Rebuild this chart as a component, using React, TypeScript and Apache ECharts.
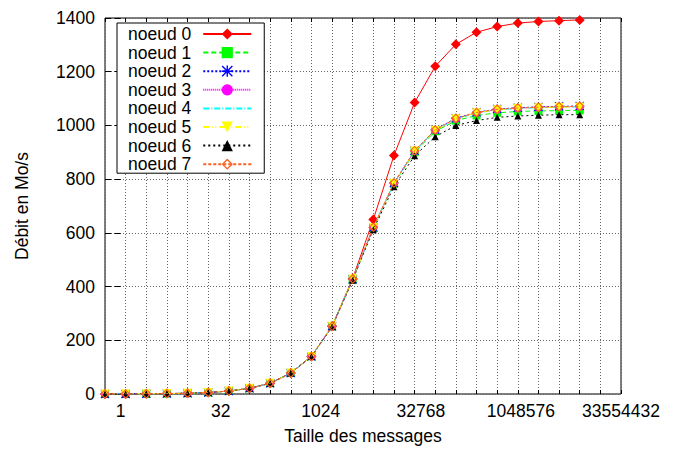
import React, { useEffect, useRef } from 'react';
import * as echarts from 'echarts';

const messageSizes = [1, 2, 4, 8, 16, 32, 64, 128, 256, 512, 1024, 2048, 4096, 8192, 16384, 32768, 65536, 131072, 262144, 524288, 1048576, 2097152, 4194304, 8388608];

const xTickExponents = [0, 5, 10, 15, 20, 25];
const xTickLabels = ['1', '32', '1024', '32768', '1048576', '33554432'];

const seriesNames = ['noeud 0', 'noeud 1', 'noeud 2', 'noeud 3', 'noeud 4', 'noeud 5', 'noeud 6', 'noeud 7'];

const noeud0 = [0.2, 0.4, 0.7, 1.4, 2.8, 5.5, 11, 21, 40, 78, 140, 252, 430, 650, 888, 1085, 1220, 1302, 1347, 1368, 1381, 1387, 1390, 1393];
const noeud1 = [0.2, 0.4, 0.7, 1.4, 2.8, 5.5, 11, 21, 40, 78, 140, 252, 426, 618, 783, 900, 978, 1018, 1037, 1047, 1052, 1054, 1055, 1056];
const noeud2 = [0.2, 0.4, 0.7, 1.4, 2.8, 5.5, 11, 21, 40, 78, 140, 252, 427, 620, 786, 906, 984, 1027, 1049, 1061, 1066, 1069, 1071, 1072];
const noeud3 = [0.2, 0.4, 0.7, 1.4, 2.8, 5.5, 11, 21, 40, 78, 140, 251, 428, 621, 785, 905, 982, 1025, 1047, 1059, 1064, 1067, 1069, 1070];
const noeud4 = [0.2, 0.4, 0.7, 1.4, 2.8, 5.5, 11, 21, 40, 78, 140, 251, 427, 619, 784, 904, 981, 1024, 1046, 1058, 1063, 1066, 1068, 1069];
const noeud5 = [0.2, 0.4, 0.7, 1.4, 2.8, 5.5, 11, 21, 40, 78, 140, 252, 428, 620, 785, 905, 982, 1025, 1047, 1058, 1064, 1066, 1068, 1069];
const noeud6 = [0.2, 0.4, 0.7, 1.4, 2.8, 5.5, 11, 21, 40, 78, 140, 250, 424, 612, 772, 887, 958, 1000, 1018, 1030, 1035, 1038, 1040, 1040];
const noeud7 = [0.2, 0.4, 0.7, 1.4, 2.8, 5.5, 11, 21, 40, 78, 140, 252, 428, 621, 786, 906, 983, 1026, 1048, 1060, 1065, 1068, 1070, 1071];

const allValues = [noeud0, noeud1, noeud2, noeud3, noeud4, noeud5, noeud6, noeud7];

const colors = ['#ff0000', '#00ff00', '#0000ff', '#ff00ff', '#00ffff', '#ffff00', '#000000', '#ff6020'];
const dashes: any[] = ['solid', [5, 3], [2, 2], [1, 1], [6, 2, 1, 2], [6, 3, 1, 2, 1, 3], [2, 3], [3, 2]];
const ASTERISK = 'path://M7,0H9V16H7Z M0,7H16V9H0Z M1.4,0L16,14.6L14.6,16L0,1.4Z M14.6,0L16,1.4L1.4,16L0,14.6Z';
const HOLLOW_DIAMOND = 'path://M6,0L12,6L6,12L0,6Z M6,2L2,6L6,10L10,6Z';
const symbols = ['diamond', 'rect', ASTERISK, 'circle', 'circle', 'triangle', 'triangle', HOLLOW_DIAMOND];
const symbolSizes = [10, 8, 9, 8, 6, 9, 7, 10];
const symbolRotates = [0, 0, 0, 0, 0, 180, 0, 0];
const symbolOpacity = [1, 1, 1, 1, 0, 1, 1, 1];

const FONT = "'Liberation Sans', Arial, Helvetica, sans-serif";
const FS = 17.5;

export default function App() {
  const ref = useRef<HTMLDivElement>(null);
  useEffect(() => {
    if (!ref.current) return;
    const chart = echarts.init(ref.current, null, { renderer: 'svg' });
    const gridLine = { show: true, lineStyle: { color: '#666', type: [1, 2] as any, width: 1 } };
    const series = seriesNames.map((name, k) => ({
      name,
      type: 'line',
      xAxisIndex: 0,
      yAxisIndex: 0,
      data: messageSizes.map((s, i) => [Math.log2(s), allValues[k][i]]),
      symbol: symbols[k],
      symbolSize: symbolSizes[k],
      symbolRotate: symbolRotates[k],
      showAllSymbol: true,
      lineStyle: { color: colors[k], width: 1, type: dashes[k] },
      itemStyle: { color: colors[k], opacity: symbolOpacity[k] },
      emphasis: { disabled: true },
      z: 2 + k * 0.01,
    }));
    chart.setOption({
      animation: false,
      textStyle: { fontFamily: FONT },
      grid: { left: 105, top: 18, right: 57, bottom: 54, show: true, borderColor: '#000', borderWidth: 1, backgroundColor: 'transparent' },
      legend: {
        orient: 'vertical',
        left: 117,
        top: 23,
        align: 'right',
        itemWidth: 48,
        itemHeight: 14,
        itemGap: 0.6,
        padding: [2, 12, 0, 11],
        borderColor: '#000',
        borderWidth: 1,
        borderRadius: 0,
        backgroundColor: '#fff',
        textStyle: { fontSize: FS, fontFamily: FONT, color: '#000', lineHeight: 17, padding: [0, 7, 0, 0] },
        data: seriesNames,
      },
      xAxis: [
        {
          type: 'value', min: 0, max: 25, interval: 1, position: 'bottom',
          axisLine: { show: false },
          axisTick: { show: true, inside: true, length: 4, lineStyle: { color: '#000' } },
          axisLabel: { show: false },
          splitLine: gridLine,
        },
        {
          type: 'value', min: -0.78, max: 25, position: 'bottom',
          name: 'Taille des messages', nameLocation: 'middle', nameGap: 33,
          nameTextStyle: { fontSize: FS, fontFamily: FONT, color: '#000' },
          axisLine: { show: false },
          axisTick: { show: false },
          splitLine: { show: false },
          axisLabel: {
            show: true, fontSize: FS, fontFamily: FONT, color: '#000', margin: 8,
            customValues: xTickExponents,
            showMinLabel: true, showMaxLabel: true,
            formatter: (v: number) => {
              const idx = xTickExponents.indexOf(Math.round(v));
              return idx >= 0 ? xTickLabels[idx] : '';
            },
          },
        },
        {
          type: 'value', min: 0, max: 25, interval: 1, position: 'top',
          axisLine: { show: false },
          axisTick: { show: true, inside: true, length: 4, lineStyle: { color: '#000' } },
          axisLabel: { show: false },
          splitLine: { show: false },
        },
      ],
      yAxis: [
        {
          type: 'value', min: 0, max: 1400, interval: 200, position: 'left',
          name: 'Débit en Mo/s', nameLocation: 'middle', nameGap: 74, nameRotate: 90,
          nameTextStyle: { fontSize: FS, fontFamily: FONT, color: '#000' },
          axisLine: { show: false },
          axisTick: { show: true, inside: true, length: 6, lineStyle: { color: '#000' } },
          axisLabel: { fontSize: FS, fontFamily: FONT, color: '#000', margin: 10, formatter: (v: number) => String(v) },
          splitLine: gridLine,
        },
        {
          type: 'value', min: 0, max: 1400, interval: 200, position: 'right',
          axisLine: { show: false },
          axisTick: { show: true, inside: true, length: 6, lineStyle: { color: '#000' } },
          axisLabel: { show: false },
          splitLine: { show: false },
        },
      ],
      series,
    });
    return () => chart.dispose();
  }, []);
  return <div ref={ref} style={{ position: 'fixed', left: 0, top: 0, width: 678, height: 450, background: '#fff' }} />;
}
